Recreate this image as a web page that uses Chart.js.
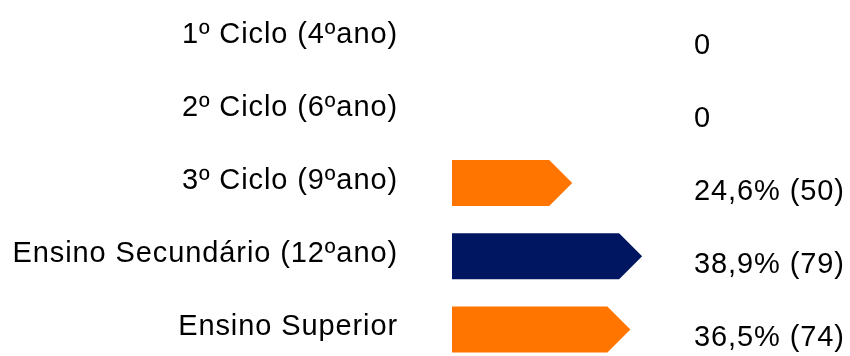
<!DOCTYPE html>
<html lang="pt">
<head>
<meta charset="utf-8">
<title>Habilitações</title>
<script src="https://cdn.jsdelivr.net/npm/chart.js@4.4.1/dist/chart.umd.min.js"></script>
<style>
  html, body { margin: 0; padding: 0; background: #ffffff; overflow: hidden; width: 850px; height: 356px; }
  #wrap { position: relative; width: 850px; height: 356px; overflow: hidden; }
  canvas { display: block; }
</style>
</head>
<body>
<div id="wrap"><canvas id="chart" width="850" height="366"></canvas></div>
<script>
// Níveis de escolaridade e respetivos valores
const categories = [
  '1º Ciclo (4ºano)',
  '2º Ciclo (6ºano)',
  '3º Ciclo (9ºano)',
  'Ensino Secundário (12ºano)',
  'Ensino Superior'
];
const percentages = [0, 0, 24.6, 38.9, 36.5];
const counts = [0, 0, 50, 79, 74];
const barColors = ['#ff7500', '#ff7500', '#ff7500', '#001660', '#ff7500'];

const FONT = '"Liberation Sans", Arial, Helvetica, sans-serif';
const FONT_SIZE = 29;
const SPACING = '0.9px';

function valueLabel(i) {
  if (!percentages[i]) return '0';
  return percentages[i].toFixed(1).replace('.', ',') + '% (' + counts[i] + ')';
}

// Espaçamento entre letras aplicado ao contexto do canvas
const letterSpacingPlugin = {
  id: 'letterSpacing',
  beforeUpdate(chart) { chart.ctx.letterSpacing = SPACING; },
  beforeDraw(chart) { chart.ctx.letterSpacing = SPACING; }
};

// Barras desenhadas em forma de seta, a partir da geometria calculada pelo Chart.js
const arrowBars = {
  id: 'arrowBars',
  afterDatasetsDraw(chart) {
    const ctx = chart.ctx;
    const meta = chart.getDatasetMeta(0);
    const colors = chart.data.datasets[0].arrowColors;
    meta.data.forEach((el, i) => {
      const p = el.getProps(['x', 'y', 'base', 'height'], true);
      const len = p.x - p.base;
      if (len <= 0) return;
      const h = p.height;
      const top = p.y - h / 2;
      const bottom = p.y + h / 2;
      const neck = Math.max(p.base, p.x - h / 2);
      ctx.save();
      ctx.fillStyle = colors[i];
      ctx.beginPath();
      ctx.moveTo(p.base, top);
      ctx.lineTo(neck, top);
      ctx.lineTo(p.x, p.y);
      ctx.lineTo(neck, bottom);
      ctx.lineTo(p.base, bottom);
      ctx.closePath();
      ctx.fill();
      ctx.restore();
    });
  }
};

// Rótulos de valor à direita
const valueLabels = {
  id: 'valueLabels',
  afterDraw(chart) {
    const ctx = chart.ctx;
    const meta = chart.getDatasetMeta(0);
    ctx.save();
    ctx.letterSpacing = SPACING;
    ctx.font = FONT_SIZE + 'px ' + FONT;
    ctx.fillStyle = '#000000';
    ctx.textAlign = 'left';
    ctx.textBaseline = 'middle';
    meta.data.forEach((el, i) => {
      ctx.fillText(valueLabel(i), 694, el.y + 9);
    });
    ctx.restore();
  }
};

new Chart(document.getElementById('chart'), {
  type: 'bar',
  data: {
    labels: categories,
    datasets: [{
      data: percentages,
      backgroundColor: 'rgba(0,0,0,0)',
      borderWidth: 0,
      barThickness: 46,
      arrowColors: barColors
    }]
  },
  options: {
    indexAxis: 'y',
    responsive: false,
    animation: false,
    events: [],
    layout: { padding: { left: 0, right: 7, top: 0, bottom: 0 } },
    plugins: {
      legend: { display: false },
      tooltip: { enabled: false },
      title: { display: false }
    },
    scales: {
      x: {
        display: false,
        min: 0,
        max: 80
      },
      y: {
        offset: true,
        grid: { display: false, drawTicks: false },
        border: { display: false },
        afterFit(scale) {
          scale.width = 452;
          scale.paddingTop = 0;
          scale.paddingBottom = 0;
        },
        ticks: {
          padding: 54,
          labelOffset: -2,
          color: '#000000',
          font: { family: FONT, size: FONT_SIZE }
        }
      }
    }
  },
  plugins: [letterSpacingPlugin, arrowBars, valueLabels]
});
</script>
</body>
</html>
